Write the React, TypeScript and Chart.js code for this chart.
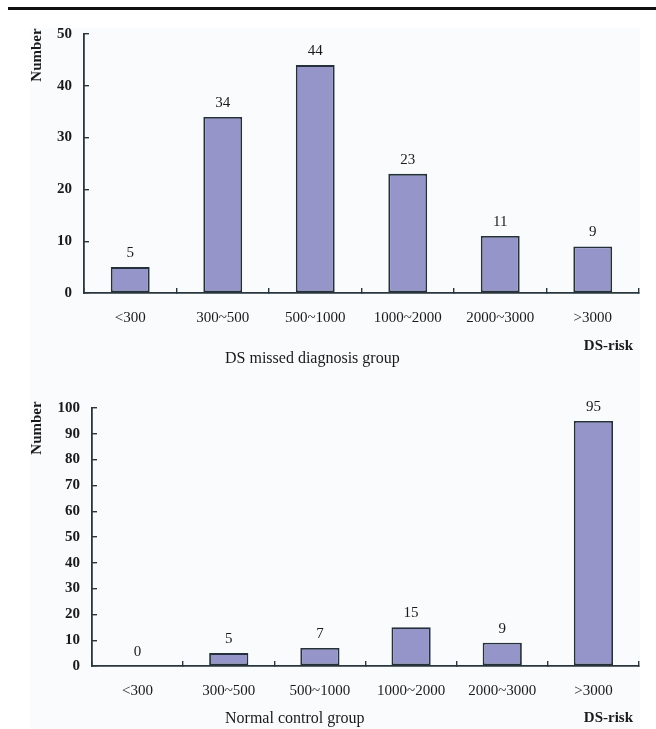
import React, { useEffect, useRef } from "react";
import { Chart, registerables } from "chart.js";

Chart.register(...registerables);

const categories = ["<300", "300~500", "500~1000", "1000~2000", "2000~3000", ">3000"];
const missedValues = [5, 34, 44, 23, 11, 9];
const controlValues = [0, 5, 7, 15, 9, 95];
const missedMax = 50;
const controlMax = 100;
const tickStep = 10;
const missedTitle = "DS missed diagnosis group";
const controlTitle = "Normal control group";
const xAxisTitle = "DS-risk";
const yAxisTitle = "Number";

const FONT = '"Liberation Serif", "Times New Roman", serif';
const TEXT = "#1a1a1a";
const AXIS = "#2a363d";
const BAR_FILL = "#9595c9";
const BAR_BORDER = "#24303a";

type PanelProps = {
  values: number[];
  yMax: number;
  top: number;
  height: number;
  axisX: number;
  areaTop: number;
  areaBottom: number;
  groupTitle: string;
  groupY: number;
  riskY: number;
  numberY: number;
  barPct: number;
};

function Panel(props: PanelProps) {
  const ref = useRef<HTMLCanvasElement | null>(null);
  useEffect(() => {
    const canvas = ref.current;
    if (!canvas) return;
    const textPlugin = {
      id: "panelText",
      afterDatasetsDraw(chart: any) {
        const ctx = chart.ctx as CanvasRenderingContext2D;
        ctx.save();
        const meta = chart.getDatasetMeta(0);
        ctx.font = `15px ${FONT}`;
        ctx.fillStyle = TEXT;
        ctx.textAlign = "center";
        ctx.textBaseline = "alphabetic";
        meta.data.forEach((el: any, i: number) => {
          ctx.fillText(String(props.values[i]), el.x, el.y - 10);
        });
        ctx.font = `16px ${FONT}`;
        ctx.textAlign = "left";
        ctx.textBaseline = "middle";
        ctx.fillText(props.groupTitle, 225, props.groupY);
        ctx.font = `bold 15px ${FONT}`;
        ctx.textAlign = "right";
        ctx.fillText(xAxisTitle, 633, props.riskY);
        ctx.translate(37, props.numberY);
        ctx.rotate(-Math.PI / 2);
        ctx.textAlign = "center";
        ctx.fillText(yAxisTitle, 0, 0);
        ctx.restore();
      },
    };
    const chart = new Chart(canvas, {
      type: "bar",
      data: {
        labels: categories,
        datasets: [
          {
            data: props.values,
            backgroundColor: BAR_FILL,
            borderColor: BAR_BORDER,
            borderWidth: 1.8,
            borderSkipped: false,
            barPercentage: props.barPct,
            categoryPercentage: 1,
          },
        ],
      },
      options: {
        responsive: false,
        animation: false,
        devicePixelRatio: 1,
        layout: { padding: { top: props.areaTop, right: 17, left: 0, bottom: 0 } },
        plugins: { legend: { display: false }, tooltip: { enabled: false }, title: { display: false } },
        scales: {
          x: {
            type: "category",
            offset: true,
            grid: {
              offset: true,
              drawOnChartArea: false,
              drawTicks: true,
              tickLength: -5,
              color: AXIS,
              lineWidth: 1.4,
            },
            border: { display: true, color: AXIS, width: 1.8 },
            ticks: {
              font: { family: FONT, size: 15 },
              color: TEXT,
              padding: 21,
              maxRotation: 0,
              autoSkip: false,
            },
            afterFit: (s: any) => {
              s.height = props.height - props.areaBottom;
            },
          },
          y: {
            min: 0,
            max: props.yMax,
            ticks: {
              stepSize: tickStep,
              font: { family: FONT, size: 15, weight: "bold" },
              color: TEXT,
              padding: 17,
            },
            grid: {
              drawOnChartArea: false,
              drawTicks: true,
              tickLength: -5,
              color: AXIS,
              lineWidth: 1.4,
            },
            border: { display: true, color: AXIS, width: 1.8 },
            afterFit: (s: any) => {
              s.width = props.axisX;
            },
          },
        },
      } as any,
      plugins: [textPlugin],
    });
    return () => chart.destroy();
  }, []);
  return (
    <canvas
      ref={ref}
      width={656}
      height={props.height}
      style={{ position: "absolute", left: 0, top: props.top, width: 656, height: props.height }}
    />
  );
}

export default function App() {
  return (
    <div style={{ position: "absolute", left: 0, top: 0, width: 656, height: 729, background: "#ffffff", overflow: "hidden" }}>
      <div style={{ position: "absolute", left: 8, top: 7, width: 648, height: 3, background: "#111" }} />
      <div style={{ position: "absolute", left: 30, top: 28, width: 610, height: 701, background: "#fafbfd" }} />
      <Panel
        values={missedValues}
        yMax={missedMax}
        top={0}
        height={370}
        axisX={84}
        areaTop={34}
        areaBottom={293}
        groupTitle={missedTitle}
        groupY={359}
        riskY={346}
        numberY={55}
        barPct={0.42}
      />
      <Panel
        values={controlValues}
        yMax={controlMax}
        top={370}
        height={359}
        axisX={92}
        areaTop={38}
        areaBottom={296}
        groupTitle={controlTitle}
        groupY={349}
        riskY={348}
        numberY={58}
        barPct={0.43}
      />
    </div>
  );
}
